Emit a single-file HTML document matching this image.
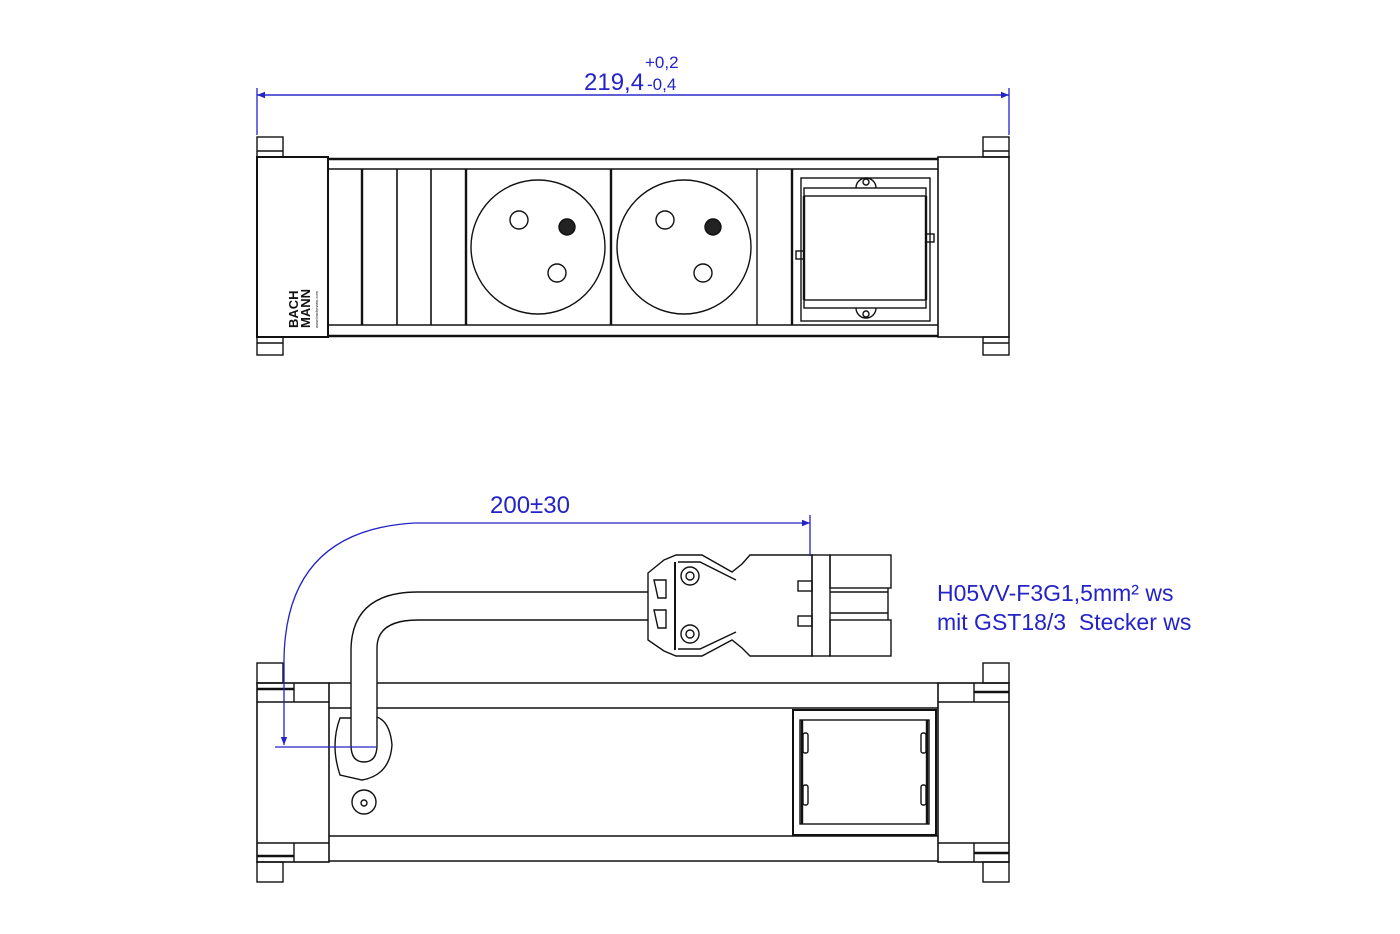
<!DOCTYPE html>
<html><head><meta charset="utf-8"><style>
html,body{margin:0;padding:0;background:#fff;}
svg{display:block;}
text{font-family:"Liberation Sans",sans-serif;}
</style></head><body>
<svg width="1400" height="934" viewBox="0 0 1400 934" xmlns="http://www.w3.org/2000/svg">
<defs>
<marker id="ar" viewBox="0 0 10 10" refX="10" refY="5" markerWidth="10" markerHeight="8" orient="auto" markerUnits="userSpaceOnUse"><path d="M0,1 L10,5 L0,9 z" fill="#2323c8"/></marker>
</defs>
<g fill="none" stroke="#111" stroke-width="1.4">
<!-- TOP VIEW -->
<rect x="257" y="137" width="26" height="20"/><line x1="257" y1="151" x2="283" y2="151"/>
<rect x="257" y="337" width="26" height="18"/><line x1="257" y1="343" x2="283" y2="343"/>
<rect x="983" y="137" width="26" height="20"/><line x1="983" y1="151" x2="1009" y2="151"/>
<rect x="983" y="337" width="26" height="18"/><line x1="983" y1="343" x2="1009" y2="343"/>
<rect x="257" y="157" width="71" height="180" stroke-width="2"/>
<rect x="938" y="157" width="71" height="180" stroke-width="1.6"/>
<line x1="328" y1="159" x2="938" y2="159" stroke-width="2.4"/>
<line x1="328" y1="169" x2="938" y2="169" stroke-width="1.6"/>
<line x1="328" y1="325" x2="938" y2="325" stroke-width="1.6"/>
<line x1="328" y1="336" x2="938" y2="336" stroke-width="2.4"/>
<line x1="362" y1="169" x2="362" y2="325" stroke-width="2.4"/>
<line x1="397" y1="169" x2="397" y2="325" stroke-width="1.6"/>
<line x1="431" y1="169" x2="431" y2="325" stroke-width="1.6"/>
<line x1="466" y1="169" x2="466" y2="325" stroke-width="2.4"/>
<line x1="611" y1="169" x2="611" y2="325" stroke-width="2.4"/>
<line x1="757" y1="169" x2="757" y2="325" stroke-width="1.4"/>
<line x1="792" y1="169" x2="792" y2="325" stroke-width="2.4"/>
<circle cx="538" cy="247" r="67"/>
<circle cx="684" cy="247" r="67"/>
<circle cx="519" cy="220" r="9"/><circle cx="567" cy="227" r="8" fill="#222"/><circle cx="557" cy="273" r="9"/>
<circle cx="665" cy="220" r="9"/><circle cx="713" cy="227" r="8" fill="#222"/><circle cx="703" cy="273" r="9"/>
<rect x="801" y="178" width="129" height="143"/>
<rect x="804" y="188" width="122" height="8"/>
<rect x="804" y="300" width="122" height="8"/>
<line x1="804" y1="196" x2="804" y2="300" stroke-width="2.4"/>
<line x1="926" y1="196" x2="926" y2="300" stroke-width="2.4"/>
<path d="M856,188 a10,10 0 0 1 20,0"/><circle cx="866" cy="182" r="3"/>
<path d="M856,308 a10,10 0 0 0 20,0"/><circle cx="866" cy="314" r="3"/>
<rect x="796" y="251" width="8" height="8"/><rect x="926" y="234" width="8" height="8"/>
<!-- BOTTOM VIEW -->
<rect x="257" y="663" width="26" height="20"/>
<rect x="257" y="862" width="26" height="20"/>
<rect x="983" y="663" width="26" height="20"/>
<rect x="983" y="862" width="26" height="20"/>
<rect x="257" y="683" width="72" height="179" stroke-width="1.6"/>
<line x1="257" y1="702" x2="329" y2="702"/><line x1="257" y1="843" x2="329" y2="843"/>
<line x1="294" y1="683" x2="294" y2="702"/><line x1="294" y1="843" x2="294" y2="862"/>
<line x1="257" y1="689" x2="294" y2="689" stroke-width="2.4"/><line x1="257" y1="856" x2="294" y2="856" stroke-width="2.4"/>
<rect x="938" y="683" width="71" height="179" stroke-width="1.6"/>
<line x1="938" y1="702" x2="1009" y2="702"/><line x1="938" y1="843" x2="1009" y2="843"/>
<line x1="974" y1="683" x2="974" y2="702"/><line x1="974" y1="843" x2="974" y2="862"/>
<line x1="974" y1="692" x2="1009" y2="692" stroke-width="2.4"/><line x1="974" y1="853" x2="1009" y2="853" stroke-width="2.4"/>
<line x1="329" y1="683" x2="938" y2="683" stroke-width="1.6"/>
<line x1="329" y1="708" x2="938" y2="708" stroke-width="1.6"/>
<line x1="329" y1="836" x2="938" y2="836" stroke-width="1.6"/>
<line x1="329" y1="861" x2="938" y2="861" stroke-width="1.6"/>
<rect x="793" y="710" width="143" height="125" stroke-width="2"/>
<rect x="800" y="720" width="129" height="104"/>
<line x1="802" y1="720" x2="802" y2="824" stroke-width="2.4"/><line x1="927" y1="720" x2="927" y2="824" stroke-width="2.4"/>
<rect x="803" y="733" width="5" height="20" rx="2"/><rect x="803" y="785" width="5" height="20" rx="2"/>
<rect x="921" y="733" width="5" height="20" rx="2"/><rect x="921" y="785" width="5" height="20" rx="2"/>
<path d="M351,718 L340,718 Q330,745 340,775 L362,780 Q390,775 392,745 Q390,722 377,717"/>
<circle cx="364" cy="802" r="12"/><circle cx="364" cy="803" r="3"/>
<!-- cable -->
<path d="M648,592 L418,592 Q351,592 351,651 L351,745 Q351,762 364,762 Q377,762 377,745 L377,648 Q377,620 418,620 L648,620" fill="#fff"/>
<!-- connector -->
<path d="M648,573 L664,560 L676,555 L702,555 L732,572 L742,564 L750,555 L812,555 L812,656 L750,656 L742,648 L732,640 L702,656 L676,656 L664,651 L648,640 Z" fill="#fff"/>
<path d="M678,562 L700,562 L736,580 M678,649 L700,649 L736,632"/>
<line x1="675" y1="562" x2="675" y2="650" stroke-width="2"/>
<circle cx="690" cy="576" r="9"/><circle cx="690" cy="576" r="4"/>
<circle cx="690" cy="634" r="9"/><circle cx="690" cy="634" r="4"/>
<path d="M654,580 L666,580 L666,598 L658,598 Z M654,610 L666,610 L666,628 L658,628 Z"/>
<rect x="798" y="581" width="14" height="10"/><rect x="798" y="616" width="14" height="10"/>
<rect x="812" y="555" width="18" height="101"/>
<rect x="830" y="555" width="61" height="33"/>
<rect x="830" y="620" width="61" height="36"/>
<line x1="830" y1="592" x2="888" y2="592"/><line x1="830" y1="613" x2="888" y2="613"/>
<line x1="888" y1="588" x2="888" y2="620"/>
</g>
<!-- BACHMANN logo -->
<text x="0" y="0" transform="translate(298,328) rotate(-90)" font-size="13" font-weight="bold" fill="#111">BACH</text>
<text x="0" y="0" transform="translate(310,328) rotate(-90)" font-size="13" font-weight="bold" fill="#111">MANN</text>
<text x="0" y="0" transform="translate(318,328) rotate(-90)" font-size="4" fill="#111">www.bachmann.com</text>
<!-- dimensions (blue) -->
<g stroke="#2323c8" fill="none" stroke-width="1.3">
<line x1="257" y1="88" x2="257" y2="135"/>
<line x1="1009" y1="88" x2="1009" y2="135"/>
<line x1="257" y1="95" x2="1009" y2="95" marker-end="url(#ar)"/>
<line x1="1009" y1="95" x2="257" y2="95" marker-end="url(#ar)"/>
<line x1="810" y1="515" x2="810" y2="556"/>
<path d="M415,523 L810,523" marker-end="url(#ar)"/>
<path d="M415,523 Q283,530 284,665 L284,745" marker-end="url(#ar)"/>
<line x1="275" y1="747" x2="376" y2="747"/>
</g>
<g fill="#2323c8">
<text x="584" y="90" font-size="24">219,4</text>
<text x="645" y="68" font-size="17">+0,2</text>
<text x="647" y="90" font-size="17">-0,4</text>
<text x="490" y="513" font-size="24">200±30</text>
<text x="937" y="601" font-size="23">H05VV-F3G1,5mm² ws</text>
<text x="937" y="630" font-size="23" xml:space="preserve">mit GST18/3  Stecker ws</text>
</g>
</svg>
</body></html>
